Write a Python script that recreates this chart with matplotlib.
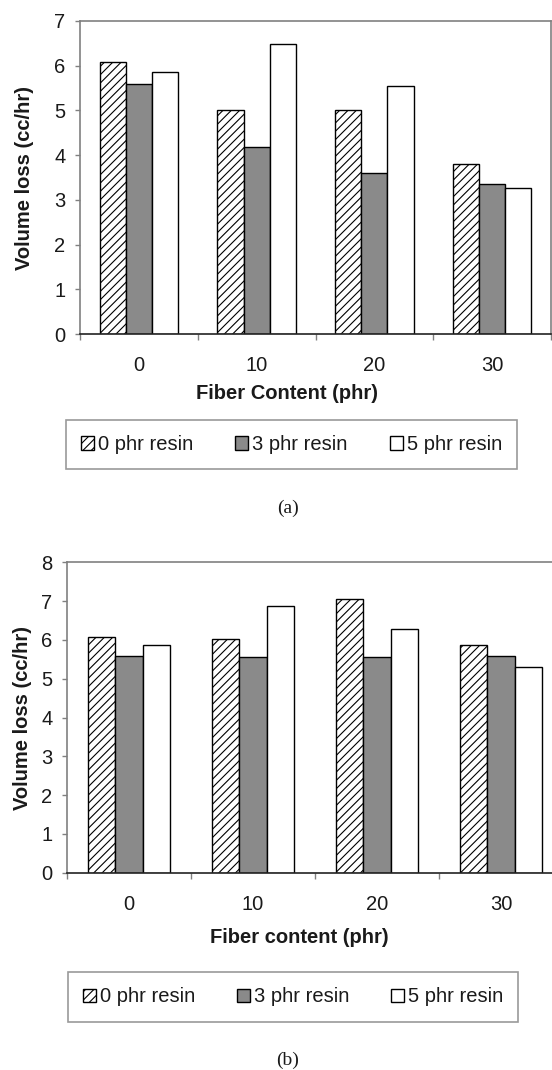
import matplotlib
matplotlib.use("Agg")
import matplotlib.pyplot as plt
import numpy as np

# ---- data ----
fiber_labels = ["0", "10", "20", "30"]
series_names = ["0 phr resin", "3 phr resin", "5 phr resin"]
vals_a_0 = [6.08, 5.01, 5.01, 3.80]
vals_a_3 = [5.59, 4.19, 3.59, 3.36]
vals_a_5 = [5.87, 6.48, 5.55, 3.26]
vals_b_0 = [6.07, 6.03, 7.06, 5.86]
vals_b_3 = [5.58, 5.57, 5.57, 5.59]
vals_b_5 = [5.87, 6.88, 6.27, 5.30]

plt.rcParams['font.family'] = ['Liberation Sans', 'DejaVu Sans']
plt.rcParams['hatch.linewidth'] = 0.8

W, H = 552, 1070
fig = plt.figure(figsize=(W / 100, H / 100), dpi=100)

GRAY = '#8a8a8a'
FRAME = '#808080'
TXT = '#1a1a1a'
FS = 14.5


def px_axes(left, top, right, bottom):
    return [left / W, 1 - bottom / H, (right - left) / W, (bottom - top) / H]


def draw_panel(rect, series, ymax, xlabel, ylab_x, xlab_x, xlab_y, legend_rect, caption_y):
    ax = fig.add_axes(rect)
    x = np.arange(len(fiber_labels))
    bw = 1 / 4.5
    styles = [dict(facecolor='white', hatch='////'),
              dict(facecolor=GRAY),
              dict(facecolor='white')]
    handles = []
    for i, (vals, st) in enumerate(zip(series, styles)):
        b = ax.bar(x + (i - 1) * bw, vals, width=bw, edgecolor='black',
                   linewidth=1.0, label=series_names[i], zorder=2, **st)
        handles.append(b)
    ax.set_xlim(-0.5, len(fiber_labels) - 0.5)
    ax.set_ylim(0, ymax)
    ax.set_yticks(np.arange(0, ymax + 1, 1))
    ax.set_xticks(x)
    ax.set_xticklabels(fiber_labels)
    ax.set_xticks(np.arange(-0.5, len(fiber_labels), 1), minor=True)
    ax.tick_params(axis='x', which='major', length=0, pad=16, labelsize=FS, labelcolor=TXT)
    ax.tick_params(axis='x', which='minor', length=4.5, width=1, color=FRAME, direction='out')
    ax.tick_params(axis='y', length=3.5, width=1, color=FRAME, pad=7, labelsize=FS, labelcolor=TXT)
    for s in ['top', 'right', 'left']:
        ax.spines[s].set_color(FRAME)
        ax.spines[s].set_linewidth(1.2)
    ax.spines['bottom'].set_color('#222222')
    ax.spines['bottom'].set_linewidth(1.2)
    ax.set_ylabel("Volume loss (cc/hr)", fontsize=FS, fontweight='bold', color=TXT, va='center')
    ax.yaxis.set_label_coords(ylab_x, 0.5)
    ax.set_xlabel(xlabel, fontsize=FS, fontweight='bold', color=TXT, va='center')
    ax.xaxis.set_label_coords(xlab_x, xlab_y)

    leg = fig.legend(handles=handles, labels=series_names, loc='center',
                     bbox_to_anchor=legend_rect, mode='expand', ncol=3,
                     fontsize=FS, frameon=True, fancybox=False,
                     edgecolor=FRAME, handlelength=0.65, handleheight=0.65,
                     handletextpad=0.2, borderpad=0.75, borderaxespad=0)
    leg.get_frame().set_linewidth(1.2)
    for t in leg.get_texts():
        t.set_color(TXT)
    return ax


# panel (a)
draw_panel(px_axes(80, 21, 551, 334), [vals_a_0, vals_a_3, vals_a_5], 7,
           "Fiber Content (phr)", -0.117, 0.44, -0.19,
           (66 / W, 1 - 472 / H, (517 - 66) / W, (472 - 417) / H), 508)
fig.text(288 / W, 1 - 508 / H, "(a)", ha='center', va='center', fontsize=14,
         family=['Liberation Serif', 'DejaVu Serif'], color=TXT)

# panel (b)
draw_panel(px_axes(67, 562.3, 563, 872.7), [vals_b_0, vals_b_3, vals_b_5], 8,
           "Fiber content (phr)", -0.089, 0.468, -0.21,
           (68 / W, 1 - 1022 / H, (518 - 68) / W, (1022 - 972) / H), 1060)
fig.text(288 / W, 1 - 1060 / H, "(b)", ha='center', va='center', fontsize=14,
         family=['Liberation Serif', 'DejaVu Serif'], color=TXT)

fig.savefig("out.png", dpi=100, facecolor='white')
